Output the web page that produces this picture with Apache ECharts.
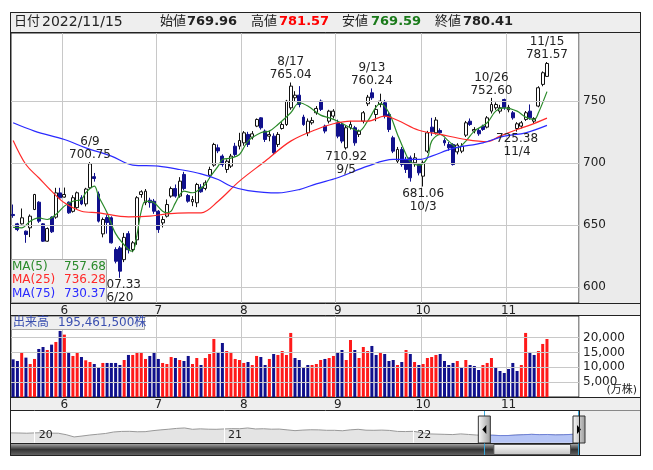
<!DOCTYPE html>
<html>
<head>
<meta charset="utf-8">
<script src="https://cdn.jsdelivr.net/npm/echarts@6/dist/echarts.min.js"></script>
<style>
html, body { margin: 0; padding: 0; background: #fff; }
#chart { width: 653px; height: 470px; }
</style>
</head>
<body>
<div id="chart"></div>
<script>
// trading days shown on the daily chart (2022), last 7 are empty future slots
const year = 2022;
const daysMay = [16, 17, 18, 19, 20, 23, 24, 25, 26, 27, 30, 31];
const daysJun = [1, 2, 3, 6, 7, 8, 9, 10, 13, 14, 15, 16, 17, 20, 21, 22, 23, 24, 27, 28, 29, 30];
const daysJul = [1, 4, 5, 6, 7, 8, 11, 12, 13, 14, 15, 19, 20, 21, 22, 25, 26, 27, 28, 29];
const daysAug = [1, 2, 3, 4, 5, 8, 9, 10, 12, 15, 16, 17, 18, 19, 22, 23, 24, 25, 26, 29, 30, 31];
const daysSep = [1, 2, 5, 6, 7, 8, 9, 12, 13, 14, 15, 16, 20, 21, 22, 26, 27, 28, 29, 30];
const daysOct = [3, 4, 5, 6, 7, 11, 12, 13, 14, 17, 18, 19, 20, 21, 24, 25, 26, 27, 28, 31];
const daysNov = [1, 2, 4, 7, 8, 9, 10, 11, 14, 15, 16, 17, 18, 21, 22, 24, 25];

// OHLC
const openP = [658.5,650.9,650.9,645,647.7,662.5,668.4,650.9,636.9,656.3,656.3,675.9,672.5,668.4,661,664,672,667,680,689,
675.1,642.8,656,655.8,630.2,631.5,622,643,630.2,638,674.6,668,670,669.2,661.1,651.7,657.1,673.3,679.4,673.3,
690.8,673.8,668.7,667.9,680.5,679.5,690.2,698.3,712.3,705.6,694.8,697.5,713.6,713.6,716.3,723.1,720.9,729.8,736.5,725.8,
721.7,721.7,715,727.9,731.1,744.6,752.7,754.8,737.1,724.4,732.5,740.6,750,729.8,733.8,737.9,732.5,731.2,712.3,728.5,
728.5,723.1,733.8,747.9,756.7,739.2,747.3,748.7,739.2,720.4,701.5,711,702.9,704.2,700.2,698.8,689.4,709.6,729,724.4,
726.3,718.2,715,715,709,709.6,722.5,733.8,725.8,726.3,729.8,729,741.9,744.6,741.9,751.3,743,740.6,727.9,729.8,
735.2,741.9,733.8,746,763.5,769.96];
const closeP = [657.6,646.3,655.8,642.3,657.1,674.6,653.1,636.9,647.1,644.5,675.9,671.9,674.6,659.8,672,676,667,679,699.4,687.5,
653.1,654.4,652,635.6,620.7,612.7,640,630,635.6,672,676.8,677.3,668,661.1,646.3,654.4,666.5,679.4,673.3,685.4,
679.4,669.2,670.6,682.7,676.8,684,694.8,715,709.8,698.8,701.5,705.6,706.9,718.2,724.4,715,723.6,735.2,728.5,719,
723.1,708.3,723.1,731.1,750,762.1,754.8,747.3,731.1,733.8,734.4,744.1,743.3,725.8,741.9,741.9,721.7,717.7,728.5,731.1,
716.3,725.8,740.6,753.2,752.7,743.3,750,737.9,727.1,709.6,711,698.8,694.8,688.1,704.2,692.1,700.2,724.4,725.2,734.7,
724.4,716.3,712.3,698.8,714.5,713.6,732.5,731.1,727.1,723.6,727.1,736.5,747.3,747.3,744.6,744.6,745,736.5,731.7,732.5,
740.6,736.5,736,760.8,772.9,780.41];
const lowP = [655.8,645,650.4,635.6,640.2,662,651.7,636.3,636.5,643.5,655,671,672,659,660,663,666,665,679,685,
652,640,643,635,619,607.33,620,627,628,634,672,666,664,659,643.6,648,656,672,672,672,
678,668,665.2,664.4,676,678,688,697,708,697,692.1,696,705,711,714,713,719,729,727,717,
717.6,707,713,727,730,743,750,745,730,721.7,731,739,742,724,732,736,720,716,710.92,727,
714,721,732,746,751,733.8,745,736,725,708,700,697,692,685,697,690,681.06,708,722,723,
723,714,710,698,707,708,721,730,724,722,726,728,740,743,740,743,741,735,725.38,728,
734,735,732,745,762,769.59];
const highP = [666.5,651.7,663.3,645.5,658.5,675.1,669.2,651.5,648,657,680,680,680.2,669,674,677,674,680,700.75,692,
677,656,658,657,632,633,643.6,645,637,673.3,678,679,672,671,662,657,670.6,681,682.7,688.6,
692.9,675,673.3,684,683,686,697,716.3,715,707,703,707.4,716.3,724.4,725.8,725.2,725.8,736,737,727.1,
726.3,724,725,733,751,765.04,758,762.1,739,736,737,746,751.3,731,743,743.5,735,733,730,734,
730,727,742,755,760.24,746.8,756,751,741,722,713,713,705,706,708,700,702,726,736.5,737.1,
728,720,717,716,716,716,734,736,729,728,731,737.9,752.6,749,747,752,747,742,733,734,
742,747.3,737,762,774,781.57];

// volume in 万株, bar colour letter read per day (r = up, b = down)
const volume = [12700,12140,14950,13270,11130,12820,16190,16860,15850,17650,18550,22260,21020,15180,13830,14840,13490,12370,11800,11130,
10120,11470,11470,11470,11470,10790,12480,14170,14170,15180,14840,12820,13830,15180,12820,11470,11130,13490,13150,12480,
12140,13830,11130,13150,10790,13150,14500,19560,15180,18210,15510,15180,12820,12480,11470,11800,10790,13830,13490,10790,
12820,14500,14170,15510,14170,21590,13150,12480,10120,10790,10790,11130,12480,12820,13150,13830,14950,15850,12480,19220,
15850,13150,16860,15510,17200,14170,14840,14500,12140,12480,10790,11800,15850,14500,11800,10790,11130,13150,13490,14170,
14500,12140,10790,11470,12140,10120,12480,10790,10460,9110,10790,11470,13150,9780,8770,8090,9440,11470,8770,10790,
21590,15180,14170,15510,17880,19546.15];
const volColor = 'bbrbrrbbrbrbrbrrbrrbbrbbbbrbrrrrbbbrrrbrbbrrbrrrbbrrrrrbrrbbrbrrrrbbbbrrrbr' +
  'rbbrrbrrrbbrbbbrbrbrbrrrrbbbbrbrbbbrrrbbbbbbrrbbrrr';

// moving averages: [day index, value]
const ma5Pts = [[0,648],[2,647.7],[4,653],[6,655.7],[8,654.4],[10,658.4],[12,665.2],[14,669.2],[16,670.6],[17,676],[19,681.3],[20,673.2],
[22,659.8],[24,643],[27,630.2],[28,628.8],[29,642.3],[30,661.1],[31,669.2],[33,667.9],[35,661.1],[36,659.8],[37,661.1],[38,667.9],
[40,677.3],[42,676],[43,677.3],[45,682.7],[46,688.1],[48,697.5],[49,702.9],[51,704],[53,706.9],[55,717.7],[58,724.4],[60,725.8],
[62,731.1],[65,740.6],[67,748.7],[69,746],[72,738.7],[74,736.5],[76,733.8],[79,728.5],[81,725.8],[83,733.8],[86,747.9],[88,740.6],
[90,723.1],[92,706.9],[93,701],[95,698.3],[97,704.2],[98,717.7],[100,723.1],[102,717.7],[104,712.3],[106,717.7],[108,725.8],
[111,732.5],[113,741.9],[115,744.6],[118,741.9],[120,737.1],[122,735.2],[123,740.6],[125,757.68]];
const ma25Pts = [[0,718.3],[3,698.8],[6,688.1],[9,677.3],[12,667.9],[16,661.1],[20,659.8],[27,656.6],[32,657.1],[36,659],[41,659.8],
[44,659.8],[48,669.2],[53,685.4],[59,701.5],[65,717.7],[71,727.1],[75,731.7],[79,733.8],[83,733.8],[87,737.9],[90,734.5],[95,726.5],
[100,723.1],[106,719],[111,717.2],[114,721.7],[118,727.1],[121,730.6],[125,736.28]];
const ma75Pts = [[0,732.5],[5,725.8],[12,719],[17,712.3],[23,705.6],[28,698.3],[34,697.5],[39,694.8],[44,691.3],[48,686.7],[51,681.3],
[55,677.8],[62,675.9],[67,678.6],[71,683.2],[76,688.1],[83,697.5],[89,702.9],[95,702.9],[98,705.6],[103,711.8],[110,716.3],
[115,721.7],[120,724.4],[125,730.37]];

const priceTicks = [600, 650, 700, 750];
const volTicks = [5000, 10000, 15000, 20000];

// annotated highs / lows
const annIdx = [18, 25, 65, 78, 84, 96, 112, 118, 125];
const annSide = ['h', 'l', 'h', 'l', 'h', 'l', 'h', 'l', 'h'];

// overview (slider) series, half-monthly closes
const ovDates = ['2019/11/16','2019/12/01','2019/12/16',
'2020/01/01','2020/01/16','2020/02/01','2020/02/16','2020/03/01','2020/03/16','2020/04/01','2020/04/16','2020/05/01','2020/05/16',
'2020/06/01','2020/06/16','2020/07/01','2020/07/16','2020/08/01','2020/08/16','2020/09/01','2020/09/16','2020/10/01','2020/10/16',
'2020/11/01','2020/11/16','2020/12/01','2020/12/16',
'2021/01/01','2021/01/16','2021/02/01','2021/02/16','2021/03/01','2021/03/16','2021/04/01','2021/04/16','2021/05/01','2021/05/16',
'2021/06/01','2021/06/16','2021/07/01','2021/07/16','2021/08/01','2021/08/16','2021/09/01','2021/09/16','2021/10/01','2021/10/16',
'2021/11/01','2021/11/16','2021/12/01','2021/12/16',
'2022/01/01','2022/01/16','2022/02/01','2022/02/16','2022/03/01','2022/03/16','2022/04/01','2022/04/16','2022/05/01','2022/05/16',
'2022/06/01','2022/06/16','2022/07/01','2022/07/16','2022/08/01','2022/08/16','2022/09/01','2022/09/16','2022/10/01','2022/10/16',
'2022/11/01','2022/11/16'];
const ovClose = [880,870,850,
880,900,860,850,720,520,600,690,760,830,960,1010,1020,980,990,1080,1150,1210,1280,1320,1200,1240,1210,1200,
1230,1260,1250,1320,1230,1250,1210,1220,1150,1080,1130,1160,1150,1110,1110,1070,1150,1200,1120,1110,1130,1100,1010,1000,
1020,910,790,770,750,730,790,740,690,660,673,640,646,685,720,750,722,738,700,714,745,780];
const ovSelStart = '2022/05/16';

const FONT = "'DejaVu Sans', 'Noto Sans CJK JP', sans-serif";
const C_UP = '#ff1a1a', C_DN = '#10108c';

const dates = [];
[[5, daysMay], [6, daysJun], [7, daysJul], [8, daysAug], [9, daysSep], [10, daysOct], [11, daysNov]]
  .forEach(([m, ds]) => ds.forEach(d => dates.push(m + '/' + d)));
const monthOf = s => s.split('/')[0];
const isMonthStart = i => i > 0 && monthOf(dates[i]) !== monthOf(dates[i - 1]);
const isYearStart = (i, v) => v.slice(5) === '01/01';

const candles = openP.map((o, i) => [o, closeP[i], lowP[i], highP[i]]);
const last = candles.length - 1;

const annData = annIdx.map((idx, k) => {
  const hi = annSide[k] === 'h';
  const v = hi ? highP[idx] : lowP[idx];
  return {
    coord: [idx, v],
    label: {
      position: hi ? 'top' : 'bottom',
      distance: 1,
      formatter: hi ? dates[idx] + '\n' + v.toFixed(2) : v.toFixed(2) + '\n' + dates[idx]
    }
  };
});

const selIdx = ovDates.indexOf(ovSelStart);

const chart = echarts.init(document.getElementById('chart'));

const xCommon = {
  type: 'category', data: dates, boundaryGap: true,
  axisLine: { show: false }, axisTick: { show: false },
  axisLabel: { interval: isMonthStart, formatter: v => monthOf(v), color: '#222', fontSize: 12, margin: 2, fontFamily: FONT },
  splitLine: { show: true, interval: isMonthStart, lineStyle: { color: '#c8c8c8', width: 1 } }
};

const option = {
  animation: false,
  backgroundColor: '#fff',
  textStyle: { fontFamily: FONT },
  grid: [
    { left: 11, right: 74, top: 33, height: 270, show: true, borderColor: '#222', borderWidth: 1, backgroundColor: '#fff' },
    { left: 11, right: 74, top: 316, height: 81, show: true, borderColor: '#222', borderWidth: 1, backgroundColor: '#fff' },
    { left: 11, right: 74, top: 411, height: 32, show: false }
  ],
  xAxis: [
    Object.assign({ gridIndex: 0 }, xCommon),
    Object.assign({ gridIndex: 1 }, xCommon),
    {
      gridIndex: 2, type: 'category', data: ovDates, boundaryGap: false, z: 5,
      axisLine: { show: false },
      axisTick: { show: true, inside: true, interval: isYearStart, length: 32, lineStyle: { color: '#fff', width: 1 } },
      axisLabel: { show: true, inside: true, interval: isYearStart, formatter: v => v.slice(2, 4),
        align: 'left', padding: [0, 0, 0, 4], margin: 2, color: '#222', fontSize: 11, fontFamily: FONT },
      splitLine: { show: false }
    }
  ],
  yAxis: [
    { gridIndex: 0, type: 'value', position: 'right', min: 587, max: 805,
      axisLine: { show: false }, axisTick: { show: false }, splitLine: { show: false },
      axisLabel: { customValues: priceTicks, color: '#222', fontSize: 12, margin: 4, fontFamily: FONT } },
    { gridIndex: 1, type: 'value', position: 'right', min: 0, max: 27300,
      axisLine: { show: false }, axisTick: { show: false }, splitLine: { show: false },
      axisLabel: { customValues: volTicks, color: '#222', fontSize: 12, margin: 4, fontFamily: FONT } },
    { gridIndex: 2, type: 'value', min: -20, max: 2830, show: false }
  ],
  series: [
    { type: 'line', xAxisIndex: 0, yAxisIndex: 0, data: [], z: 1, silent: true,
      markLine: { silent: true, symbol: ['none', 'none'], label: { show: false },
        lineStyle: { color: '#c8c8c8', type: 'solid', width: 1 }, data: priceTicks.map(v => ({ yAxis: v })) } },
    { type: 'line', xAxisIndex: 1, yAxisIndex: 1, data: [], z: 1, silent: true,
      markLine: { silent: true, symbol: ['none', 'none'], label: { show: false },
        lineStyle: { color: '#c8c8c8', type: 'solid', width: 1 }, data: volTicks.map(v => ({ yAxis: v })) } },
    {
      name: 'price', type: 'candlestick', xAxisIndex: 0, yAxisIndex: 0, data: candles, barWidth: 3.4, z: 3,
      itemStyle: { color: '#fff', color0: C_DN, borderColor: '#111', borderColor0: C_DN, borderWidth: 1 },
      markPoint: {
        symbol: 'circle', symbolSize: 0, silent: true,
        itemStyle: { color: 'transparent' },
        label: { show: true, color: '#222', fontSize: 12, lineHeight: 13, fontFamily: FONT },
        data: annData
      }
    },
    { name: 'MA(5)', type: 'line', xAxisIndex: 0, yAxisIndex: 0, data: ma5Pts, smooth: 0.35, showSymbol: false, z: 4,
      lineStyle: { color: '#2a8a2a', width: 1.2 } },
    { name: 'MA(25)', type: 'line', xAxisIndex: 0, yAxisIndex: 0, data: ma25Pts, smooth: 0.35, showSymbol: false, z: 4,
      lineStyle: { color: '#ff2a2a', width: 1.2 } },
    { name: 'MA(75)', type: 'line', xAxisIndex: 0, yAxisIndex: 0, data: ma75Pts, smooth: 0.35, showSymbol: false, z: 4,
      lineStyle: { color: '#2a2aff', width: 1.2 } },
    { type: 'bar', xAxisIndex: 1, yAxisIndex: 1, barWidth: 3, z: 3,
      data: volume.map((v, i) => ({ value: v, itemStyle: { color: volColor[i] === 'r' ? C_UP : C_DN } })) },
    { type: 'line', xAxisIndex: 2, yAxisIndex: 2, data: ovClose, showSymbol: false, z: 2, silent: true,
      lineStyle: { color: '#999', width: 1 }, areaStyle: { color: '#e4e4e4', opacity: 1 } },
    { type: 'line', xAxisIndex: 2, yAxisIndex: 2, z: 3, showSymbol: false, silent: true,
      data: ovClose.map((v, i) => (i >= selIdx ? v : null)),
      lineStyle: { color: '#6f82d8', width: 1 }, areaStyle: { color: '#b6c5f5', opacity: 1 } }
  ]
};

chart.setOption(option);

// frame, panels, legends and slider parts
const hx0 = chart.convertToPixel({ xAxisIndex: 2 }, ovSelStart);
const hx1 = chart.convertToPixel({ xAxisIndex: 2 }, ovDates[ovDates.length - 1]);
const fmt = n => n.toFixed(2);
const volText = Math.round(volume[last] * 10000).toLocaleString('en-US');

const rect = (x, y, w, h, fill, stroke, z) => ({ type: 'rect', shape: { x, y, width: w, height: h }, z: z || -5, silent: true,
  style: { fill: fill || 'none', stroke: stroke || null, lineWidth: 1 } });
const text = (x, y, t, color, font, z, align) => ({ type: 'text', x, y, z: z || 60, silent: true,
  style: { text: t, fill: color, font, verticalAlign: 'middle', align: align || 'left' } });
const handle = (hx, dir) => ({
  type: 'group', z: 70, silent: true, children: [
    { type: 'rect', z: 70, shape: { x: hx - 6, y: 416, width: 12, height: 27 },
      style: { stroke: '#333', lineWidth: 1, fill: { type: 'linear', x: 0, y: 0, x2: 1, y2: 0,
        colorStops: [{ offset: 0, color: '#fdfdfd' }, { offset: 1, color: '#9a9a9a' }] } } },
    { type: 'polygon', z: 71, shape: { points: dir < 0 ? [[hx + 2, 425], [hx - 2, 429.5], [hx + 2, 434]] : [[hx - 2, 425], [hx + 2, 429.5], [hx - 2, 434]] },
      style: { fill: '#000' } }
  ]
});

const g = [
  rect(10.5, 12.5, 630, 20, '#eeeeee', '#222'),
  rect(579.5, 33, 61, 270, '#ebebeb', null),
  rect(10.5, 303.5, 630, 12, '#eeeeee', '#222'),
  rect(10.5, 397.5, 630, 13, '#eeeeee', '#222'),
  rect(579.5, 410.5, 61, 45, '#eeeeee', null),
  rect(10.5, 12.5, 630, 443, null, '#222', 80),
  { type: 'line', z: 80, silent: true, shape: { x1: 640.5, y1: 12, x2: 640.5, y2: 456 }, style: { stroke: '#222' } },
  { type: 'line', z: 80, silent: true, shape: { x1: 579.5, y1: 410, x2: 579.5, y2: 456 }, style: { stroke: '#222' } },
  // header
  text(14, 22, '日付', '#222', '13px ' + FONT), text(42, 22, year + '/' + dates[last].replace('/', '/'), '#222', '14px ' + FONT),
  text(160, 22, '始値', '#222', '13px ' + FONT), text(187, 22, fmt(openP[last]), '#222', 'bold 13px ' + FONT),
  text(251, 22, '高値', '#222', '13px ' + FONT), text(279, 22, fmt(highP[last]), '#ff0000', 'bold 13px ' + FONT),
  text(342, 22, '安値', '#222', '13px ' + FONT), text(371, 22, fmt(lowP[last]), '#1a7a1a', 'bold 13px ' + FONT),
  text(435, 22, '終値', '#222', '13px ' + FONT), text(463, 22, fmt(closeP[last]), '#222', 'bold 13px ' + FONT),
  // MA legend
  rect(11.5, 259.5, 95, 43, '#efefef', '#aaa', 50),
  text(12, 267, 'MA(5)', '#2a8a2a', '12px ' + FONT), text(64, 267, fmt(ma5Pts[ma5Pts.length - 1][1]), '#2a8a2a', '12px ' + FONT),
  text(12, 280, 'MA(25)', '#ff2a2a', '12px ' + FONT), text(64, 280, fmt(ma25Pts[ma25Pts.length - 1][1]), '#ff2a2a', '12px ' + FONT),
  text(12, 294, 'MA(75)', '#2a2aff', '12px ' + FONT), text(64, 294, fmt(ma75Pts[ma75Pts.length - 1][1]), '#2a2aff', '12px ' + FONT),
  // volume title
  rect(11.5, 316.5, 133, 13, '#efefef', '#aaa', 50),
  text(13, 323, '出来高', '#3a4fb0', '12px ' + FONT), text(58, 323, volText + '株', '#3a4fb0', '12px ' + FONT),
  text(637, 390, '(万株)', '#222', '11px ' + FONT, 60, 'right'),
  // slider scroll track and thumb
  { type: 'rect', z: 40, silent: true, shape: { x: 10.5, y: 443.5, width: 569, height: 12 },
    style: { stroke: '#222', fill: { type: 'linear', x: 0, y: 0, x2: 0, y2: 1,
      colorStops: [{ offset: 0, color: '#b5b5b5' }, { offset: 0.5, color: '#333' }, { offset: 1, color: '#6a6a6a' }] } } },
  { type: 'rect', z: 41, silent: true, shape: { x: hx0 + 9.5, y: 444.5, width: hx1 - hx0 - 18, height: 10 },
    style: { stroke: '#555', fill: { type: 'linear', x: 0, y: 0, x2: 0, y2: 1,
      colorStops: [{ offset: 0, color: '#fbfbfb' }, { offset: 1, color: '#c4c4c4' }] } } },
  { type: 'line', z: 65, silent: true, shape: { x1: Math.round(hx0) + 0.5, y1: 411, x2: Math.round(hx0) + 0.5, y2: 456 }, style: { stroke: '#3aa8dc' } },
  { type: 'line', z: 65, silent: true, shape: { x1: Math.round(hx1) - 0.5, y1: 411, x2: Math.round(hx1) - 0.5, y2: 456 }, style: { stroke: '#3aa8dc' } },
  handle(hx0, -1),
  handle(hx1, 1)
];
chart.setOption({ graphic: g });
</script>
</body>
</html>
